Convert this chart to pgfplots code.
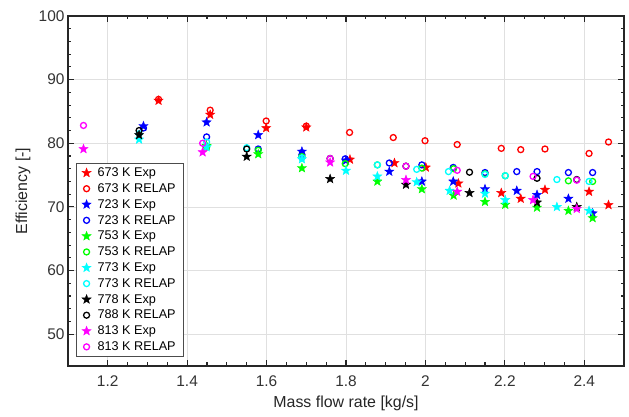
\documentclass[border=0pt]{standalone}
\usepackage{pgfplots}
\pgfplotsset{compat=1.18}
\usepackage{fontspec}
\setmainfont{Liberation Sans}
\usetikzlibrary{calc}

\definecolor{mred}{rgb}{1,0,0}
\definecolor{mblue}{rgb}{0,0,1}
\definecolor{mgreen}{rgb}{0,1,0}
\definecolor{mcyan}{rgb}{0,1,1}
\definecolor{mblack}{rgb}{0,0,0}
\definecolor{mmagenta}{rgb}{1,0,1}

% filled five-pointed star, like the matlab pentagram
\pgfdeclareplotmark{fstar}{%
  \pgfpathmoveto{\pgfpointpolar{90}{\pgfplotmarksize}}%
  \pgfpathlineto{\pgfpointpolar{126}{0.42*\pgfplotmarksize}}%
  \pgfpathlineto{\pgfpointpolar{162}{\pgfplotmarksize}}%
  \pgfpathlineto{\pgfpointpolar{198}{0.42*\pgfplotmarksize}}%
  \pgfpathlineto{\pgfpointpolar{234}{\pgfplotmarksize}}%
  \pgfpathlineto{\pgfpointpolar{270}{0.42*\pgfplotmarksize}}%
  \pgfpathlineto{\pgfpointpolar{306}{\pgfplotmarksize}}%
  \pgfpathlineto{\pgfpointpolar{342}{0.42*\pgfplotmarksize}}%
  \pgfpathlineto{\pgfpointpolar{18}{\pgfplotmarksize}}%
  \pgfpathlineto{\pgfpointpolar{54}{0.42*\pgfplotmarksize}}%
  \pgfpathclose
  \pgfusepathqfillstroke}

\pgfplotsset{
  exp/.style={only marks, mark=fstar, mark size=4.8bp, color=#1,
    mark options={line width=0.4bp, fill=#1}},
  sim/.style={only marks, mark=o, mark size=3bp, color=#1,
    mark options={line width=1.3bp}},
}

\begin{document}
\begin{tikzpicture}
\begin{axis}[name=ax, scale only axis, width=556bp, height=350bp,
  xmin=1.1, xmax=2.5, ymin=45, ymax=100,
  xtick={1.2,1.4,1.6,1.8,2,2.2,2.4},
  xticklabels={1.2,1.4,1.6,1.8,2,2.2,2.4},
  ytick={50,60,70,80,90,100},
  minor x tick num=3, minor y tick num=4,
  tick align=inside, major tick length=6bp, minor tick length=3.5bp,
  every tick/.style={black!85, line width=1.1bp},
  grid=major, major grid style={black!12, line width=0.8bp},
  axis line style={black!85, line width=1.5bp},
  /pgf/number format/assume math mode=true,
  ticklabel style={font=\fontsize{15.5}{18}\selectfont, text=black!80},
  xticklabel style={yshift=-6bp},
  xlabel={Mass flow rate [kg/s]}, ylabel={Efficiency [-]},
  label style={font=\fontsize{16}{19}\selectfont, text=black!85},
  xlabel style={at={(rel axis cs:0.5,-0.106)}, anchor=center},
  ylabel style={at={(rel axis cs:-0.081,0.5)}, anchor=center},
  legend style={at={(rel axis cs:0.0144,0.0257)}, anchor=south west,
    font=\fontsize{12.7}{16}\selectfont, draw=black!70, line width=1bp,
    row sep=1.5bp, inner ysep=2.5bp, inner xsep=5.5bp,
    /tikz/every odd column/.append style={column sep=4.5bp}},
  legend cell align=left,
]
\addplot[exp=mred] coordinates {(1.328,86.7) (1.458,84.5) (1.599,82.4) (1.700,82.5)
  (1.810,77.45) (1.922,76.9) (2.001,76.2) (2.083,73.7) (2.191,72.2) (2.240,71.3)
  (2.301,72.7) (2.412,72.4) (2.461,70.3)};
\addlegendentry{673 K Exp}
\addplot[sim=mred] coordinates {(1.328,86.9) (1.458,85.2) (1.599,83.5) (1.700,82.7)
  (1.809,81.7) (1.919,80.9) (1.999,80.4) (2.080,79.8) (2.191,79.2) (2.240,79.0)
  (2.301,79.1) (2.412,78.4) (2.461,80.2)};
\addlegendentry{673 K RELAP}
\addplot[exp=mblue] coordinates {(1.290,82.7) (1.449,83.3) (1.579,81.3) (1.689,78.7)
  (1.800,77.3) (1.909,75.55) (1.991,74.0) (2.070,74.0) (2.150,72.8) (2.230,72.55)
  (2.281,71.9) (2.360,71.3) (2.421,69.0)};
\addlegendentry{723 K Exp}
\addplot[sim=mblue] coordinates {(1.290,82.4) (1.449,81.0) (1.579,79.1) (1.689,78.2)
  (1.798,77.55) (1.909,76.9) (1.991,76.6) (2.070,76.2) (2.150,75.4) (2.230,75.55)
  (2.281,75.55) (2.360,75.4) (2.421,75.4)};
\addlegendentry{723 K RELAP}
\addplot[exp=mgreen] coordinates {(1.449,79.6) (1.579,78.3) (1.689,76.1) (1.879,74.0)
  (1.991,72.8) (2.071,71.8) (2.150,70.8) (2.201,70.35) (2.281,69.9) (2.360,69.4)
  (2.421,68.25)};
\addlegendentry{753 K Exp}
\addplot[sim=mgreen] coordinates {(1.449,79.4) (1.579,78.9) (1.689,77.9) (1.798,76.8)
  (1.879,76.6) (1.991,76.1) (2.071,76.0) (2.150,75.2) (2.201,74.9) (2.360,74.1)
  (2.421,74.0)};
\addlegendentry{753 K RELAP}
\addplot[exp=mcyan] coordinates {(1.279,80.6) (1.449,79.4) (1.689,77.5) (1.800,75.7)
  (1.879,74.8) (1.978,73.9) (2.061,72.55) (2.150,72.1) (2.201,71.1) (2.331,70.0)
  (2.412,69.4)};
\addlegendentry{773 K Exp}
\addplot[sim=mcyan] coordinates {(1.279,81.5) (1.449,80.2) (1.550,79.3) (1.689,77.7)
  (1.879,76.6) (1.978,75.9) (2.058,75.55) (2.150,75.1) (2.201,74.9) (2.331,74.3)
  (2.412,74.0)};
\addlegendentry{773 K RELAP}
\addplot[exp=mblack] coordinates {(1.279,81.3) (1.550,77.9) (1.760,74.4) (1.951,73.5)
  (2.111,72.2) (2.281,70.7) (2.381,70.0)};
\addlegendentry{778 K Exp}
\addplot[sim=mblack] coordinates {(1.279,82.0) (1.550,79.1) (1.760,77.6) (1.951,76.4)
  (2.111,75.45) (2.281,74.5) (2.381,74.3)};
\addlegendentry{788 K RELAP}
\addplot[exp=mmagenta] coordinates {(1.139,79.1) (1.439,78.6) (1.760,77.0) (1.951,74.25)
  (2.080,72.4) (2.271,71.1) (2.381,69.7)};
\addlegendentry{813 K Exp}
\addplot[sim=mmagenta] coordinates {(1.139,82.8) (1.439,80.0) (1.760,77.6) (1.951,76.4)
  (2.080,75.75) (2.271,74.8) (2.381,74.2)};
\addlegendentry{813 K RELAP}
\end{axis}
\pgfresetboundingbox
\path ($(ax.south west)+(-68bp,-51bp)$) rectangle ($(ax.north east)+(5bp,16bp)$);
\end{tikzpicture}
\end{document}
